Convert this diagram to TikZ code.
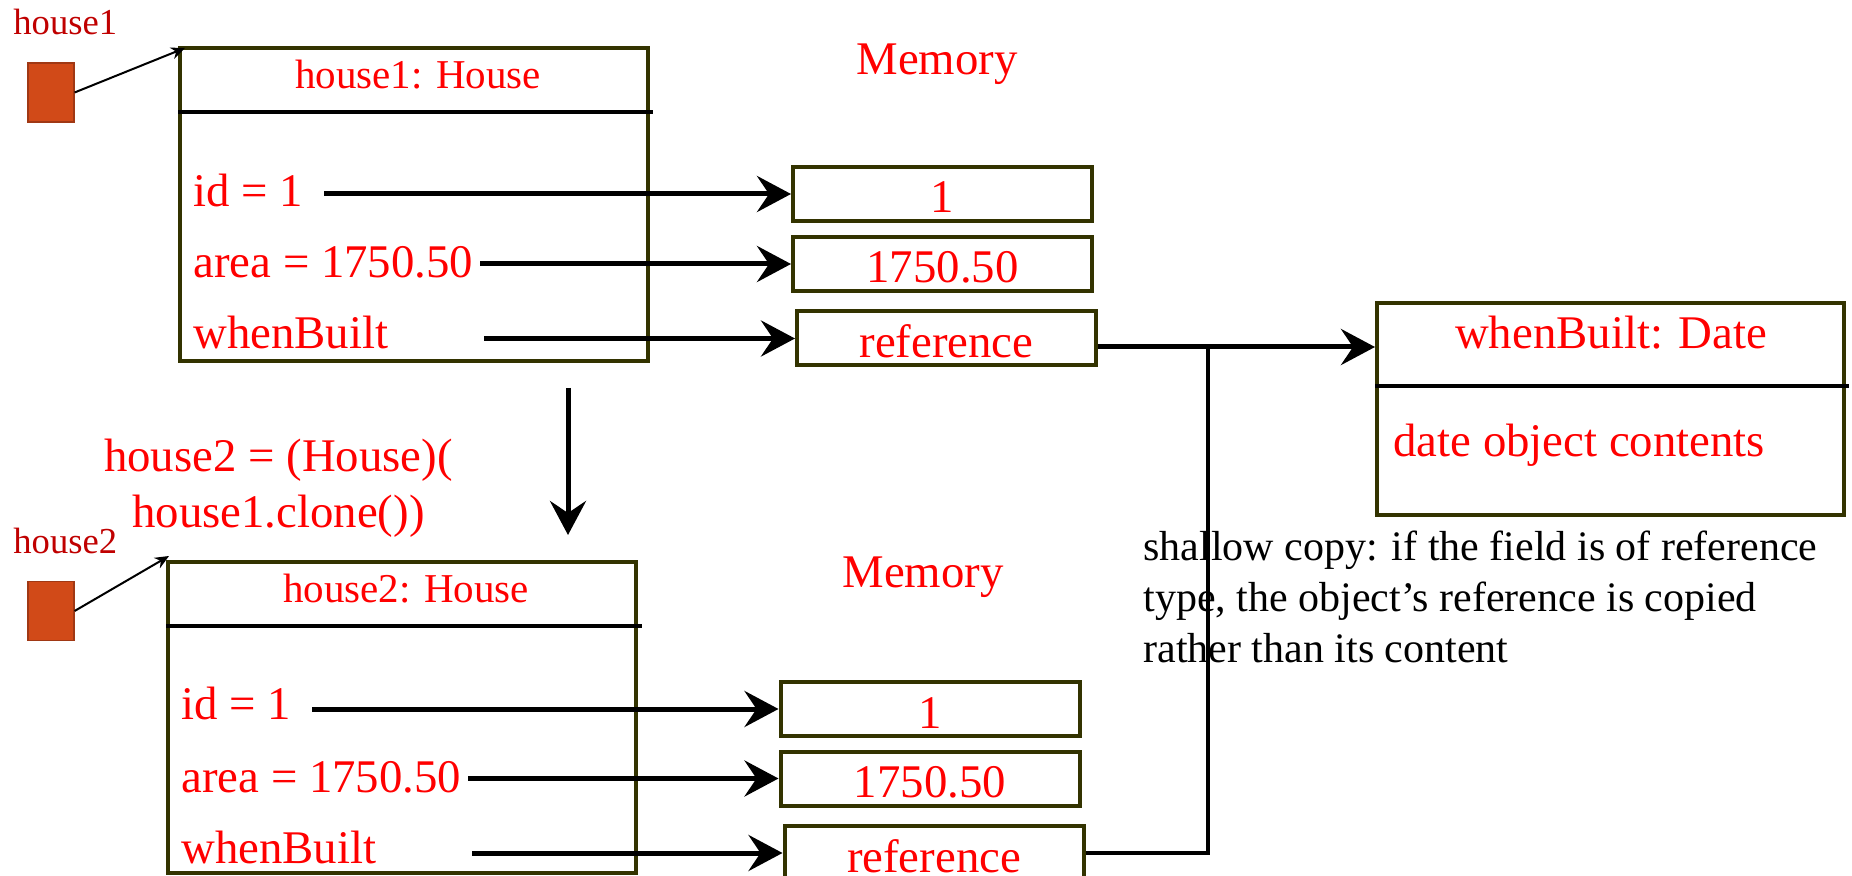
\documentclass[tikz,border=0pt]{standalone}
\usepackage{fontspec}
\setmainfont{Liberation Serif}
\usetikzlibrary{arrows.meta, positioning, calc}

\definecolor{boxline}{RGB}{51,51,0}
\definecolor{fieldred}{RGB}{255,0,0}
\definecolor{labelred}{RGB}{192,0,0}
\definecolor{reffill}{RGB}{209,74,24}
\definecolor{refline}{RGB}{160,56,20}

\begin{document}
\begin{tikzpicture}[x=0.5pt, y=-0.5pt, >={Stealth[length=17pt,width=18pt,inset=6pt]},
    object/.style={draw=boxline, line width=2pt, inner sep=0pt},
    value/.style={draw=boxline, line width=2pt, inner sep=0pt, minimum width=149.5pt,
      minimum height=27pt, text height=19pt, text depth=0pt, text=fieldred,
      font=\fontsize{23.4}{28}\selectfont},
    field/.style={anchor=base west, inner sep=0pt, text=fieldred, font=\fontsize{23.4}{28}\selectfont},
    title/.style={anchor=base, inner sep=0pt, text=fieldred, font=\fontsize{20.5}{24}\selectfont},
    memlabel/.style={anchor=base, inner sep=0pt, text=fieldred, font=\fontsize{23.4}{28}\selectfont},
    varname/.style={anchor=base west, inner sep=0pt, text=labelred, font=\fontsize{18.3}{22}\selectfont},
    refvar/.style={draw=refline, fill=reffill, line width=0.6pt, minimum width=23pt, minimum height=29.5pt, inner sep=0pt},
    divider/.style={line width=1.8pt},
    arrowline/.style={line width=2.5pt},
    link/.style={line width=2pt},
    ptr/.style={line width=1pt, -{Stealth[length=7pt,width=6pt]}}]
  \path [use as bounding box, fill=white] (0,0) rectangle (1852,876);

  % house1 and its object
  \node [varname] (name-1) at (13,35) {house1};
  \node [refvar] (var-1) at (51,92.5) {};
  \node [object, minimum width=234pt, minimum height=156.5pt] (house-1) at (414,204.5) {};
  \node [title] (title-1) at (418,89) {house1: House};
  \draw [divider] ($(house-1.north west)+(0,66)$) -- ($(house-1.north east)+(3,66)$);
  \foreach \t/\y [count=\i] in {id = 1/207, area = 1750.50/278, whenBuilt/349}
    \node [field] (field1-\i) at (193,\y) {\t};
  \draw [ptr] (var-1.east) -- ([xshift=3.5pt,yshift=-1pt]house-1.north west);

  % memory of house1
  \node [memlabel] (memory-1) at (937,75) {Memory};
  \foreach \v/\y [count=\i] in {1/194, 1750.50/264}
    \node [value] (val1-\i) at (942.5,\y) {\v};
  \node [value] (ref-1) at (946.5,338.5) {reference};

  \foreach \x/\y [count=\i] in {324/194, 480/264, 484/338.5}
    \coordinate (src1-\i) at (\x,\y);
  \foreach \i/\t in {1/val1-1, 2/val1-2, 3/ref-1}
    \draw [arrowline, ->] (src1-\i) -- (\t);

  % the Date object
  \node [object, minimum width=233.5pt, minimum height=106pt] (date) at (1610.5,409) {};
  \node [title, font=\fontsize{23.4}{28}\selectfont] (title-date) at (1611,349) {whenBuilt: Date};
  \draw [divider] ($(date.north west)+(0,85)$) -- ($(date.north east)+(3,85)$);
  \node [field] (contents) at (1393,457) {date object contents};

  % house2 and its object
  \node [varname] (name-2) at (13,553) {house2};
  \node [refvar] (var-2) at (51,611) {};
  \node [object, minimum width=234pt, minimum height=155.5pt] (house-2) at (402,717.5) {};
  \node [title] (title-2) at (406,603) {house2: House};
  \draw [divider] ($(house-2.north west)+(0,66)$) -- ($(house-2.north east)+(4,66)$);
  \foreach \t/\y [count=\i] in {id = 1/719, area = 1750.50/792, whenBuilt/863}
    \node [field] (field2-\i) at (181,\y) {\t};
  \draw [ptr] (var-2.east) -- ([xshift=1.5pt,yshift=2pt]house-2.north west);

  % clone step
  \draw [arrowline, ->] ($(house-1.south west)+(390,25)$) -- ($(house-2.north west)+(402,-25)$);
  \node [align=center, inner sep=0pt, text=fieldred, font=\fontsize{23.4}{28}\selectfont] (cast) at (278.5,488)
    {house2 = (House)(\\house1.clone())};

  % memory of house2
  \node [memlabel] (memory-2) at (923,588) {Memory};
  \foreach \v/\y [count=\i] in {1/709, 1750.50/778.5}
    \node [value] (val2-\i) at (930,\y) {\v};
  \node [value] (ref-2) at (934,853) {reference};

  \foreach \x/\y [count=\i] in {312/709, 468/778.5, 472/853}
    \coordinate (src2-\i) at (\x,\y);
  \foreach \i/\t in {1/val2-1, 2/val2-2, 3/ref-2}
    \draw [arrowline, ->] (src2-\i) -- (\t);

  % both references point to the same Date
  \coordinate (join) at (1208,347);
  \draw [arrowline, ->] (ref-1.east |- join) -- (join -| date.west);
  \draw [link] (ref-2.east) -| (join);

  \node [anchor=north west, align=left, inner sep=0pt, font=\fontsize{21}{25.5}\selectfont] (shallow) at (1143,531)
    {shallow copy: if the field is of reference\\type, the object’s reference is copied\\rather than its content};
\end{tikzpicture}
\end{document}
